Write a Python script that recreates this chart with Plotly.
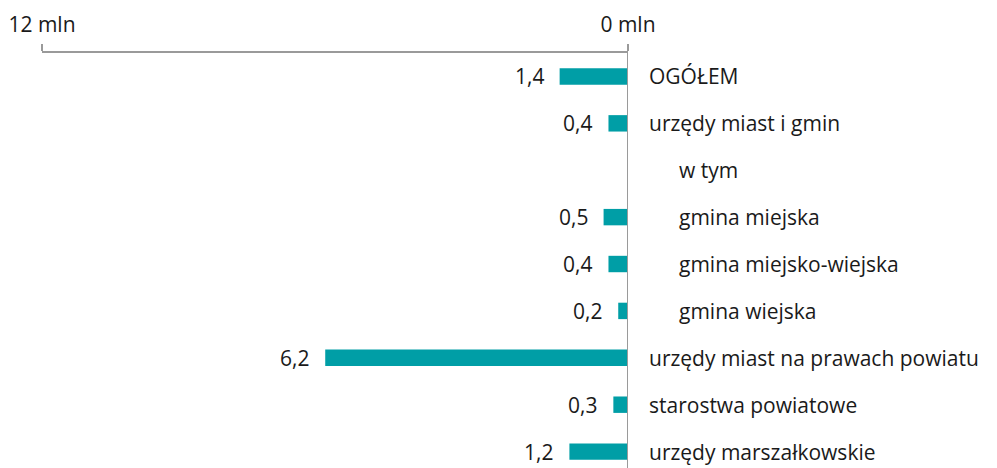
import plotly.graph_objects as go

categories = ["OGÓŁEM", "urzędy miast i gmin", "w tym", "gmina miejska",
              "gmina miejsko-wiejska", "gmina wiejska",
              "urzędy miast na prawach powiatu", "starostwa powiatowe",
              "urzędy marszałkowskie"]
indent = [False, False, True, True, True, True, False, False, False]
values = [1.4, 0.4, None, 0.5, 0.4, 0.2, 6.2, 0.3, 1.2]
tick_vals = [12, 0]
tick_text = ["12 mln", "0 mln"]

FONT = "Open Sans"
FS = 21
TXT = "#1a1a1a"
BAR = "#009ea6"
AX = "#9a9a9a"

ypos = list(range(len(categories)))
fig = go.Figure()
fig.add_trace(go.Bar(
    x=[v if v is not None else 0 for v in values], y=ypos, orientation="h",
    marker=dict(color=BAR, line=dict(width=0)), width=0.35,
    hoverinfo="skip", showlegend=False))

anns = []
for i, (c, v, ind) in enumerate(zip(categories, values, indent)):
    anns.append(dict(x=1, xref="paper", y=i, yref="y", text=c, showarrow=False,
                     xanchor="left", yanchor="middle", xshift=49 if ind else 19,
                     font=dict(family=FONT, size=FS, color=TXT)))
    if v is not None:
        anns.append(dict(x=v, xref="x", y=i, yref="y",
                         text=f"{v:.1f}".replace(".", ","), showarrow=False,
                         xanchor="right", yanchor="middle", xshift=-14,
                         font=dict(family=FONT, size=FS, color=TXT)))

fig.update_layout(
    width=997, height=468,
    margin=dict(l=42, r=369, t=53, b=0, autoexpand=False),
    paper_bgcolor="white", plot_bgcolor="white",
    font=dict(family=FONT, size=FS, color=TXT),
    annotations=anns,
    xaxis=dict(range=[12, 0], side="top", tickvals=tick_vals, ticktext=tick_text,
               ticks="outside", ticklen=7, tickcolor=AX, tickwidth=2,
               ticklabelstandoff=4, automargin=False,
               showline=True, linecolor=AX, linewidth=2,
               showgrid=False, zeroline=False,
               tickfont=dict(family=FONT, size=FS, color=TXT)),
    yaxis=dict(range=[8.35, -0.5], showticklabels=False, showgrid=False,
               zeroline=False, showline=False, ticks="", automargin=False),
    shapes=[dict(type="line", xref="x", yref="paper", x0=0, x1=0, y0=0, y1=1,
                 line=dict(color=AX, width=2))],
)
fig.write_html("out.html", config={"displayModeBar": False},
               post_script="document.body.style.margin='0';document.body.style.padding='0';")
